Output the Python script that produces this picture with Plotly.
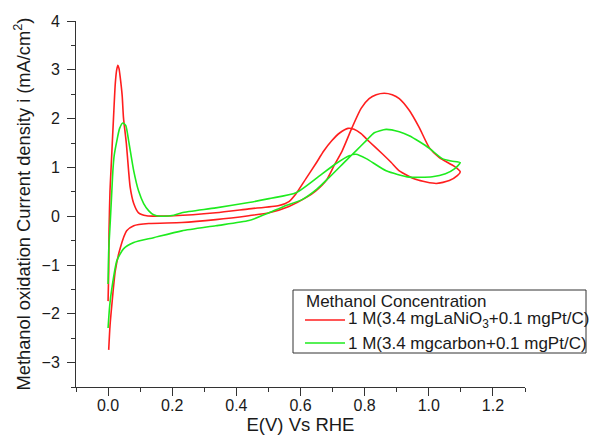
import plotly.graph_objects as go

# Potential (V vs RHE) and current density (mA/cm2), traced along each CV loop
E_lanio3 = [0.000, 0.002, 0.003, 0.006, 0.009, 0.017, 0.0225, 0.0266, 0.0306, 0.034, 0.038, 0.044,
            0.048, 0.057, 0.064, 0.069, 0.080, 0.095, 0.120, 0.205, 0.336, 0.439, 0.533, 0.564,
            0.586, 0.617, 0.648, 0.673, 0.698, 0.723, 0.748, 0.767, 0.789, 0.814, 0.855, 0.883,
            0.908, 0.961, 1.023, 1.064, 1.089, 1.098, 1.080, 1.033, 1.002, 0.970, 0.939, 0.908,
            0.886, 0.861, 0.836, 0.814, 0.789, 0.761, 0.730, 0.705, 0.680, 0.648, 0.617, 0.564,
            0.502, 0.439, 0.336, 0.230, 0.127, 0.080, 0.058, 0.038, 0.0225, 0.012, 0.006, 0.002]
i_lanio3 = [-1.74, -1.12, -0.30, 0.52, 0.93, 2.02, 2.72, 2.99, 3.09, 3.03, 2.84, 2.47,
            2.02, 1.49, 0.93, 0.59, 0.26, 0.07, 0.01, 0.01, 0.07, 0.15, 0.22, 0.30,
            0.46, 0.77, 1.08, 1.34, 1.55, 1.71, 1.80, 1.78, 1.69, 1.53, 1.28, 1.10,
            0.93, 0.75, 0.67, 0.73, 0.83, 0.91, 1.02, 1.20, 1.40, 1.82, 2.17, 2.41,
            2.49, 2.52, 2.49, 2.41, 2.21, 1.82, 1.34, 1.04, 0.73, 0.52, 0.38, 0.20,
            0.07, 0.01, -0.07, -0.13, -0.15, -0.195, -0.30, -0.65, -1.12, -1.80, -2.25, -2.74]

E_carbon = [0.000, 0.002, 0.007, 0.011, 0.015, 0.019, 0.0275, 0.036, 0.046, 0.055, 0.064, 0.080,
            0.095, 0.111, 0.127, 0.142, 0.164, 0.205, 0.230, 0.336, 0.439, 0.502, 0.586, 0.648,
            0.711, 0.752, 0.773, 0.805, 0.867, 0.939, 1.011, 1.052, 1.080, 1.098, 1.070, 1.042,
            1.002, 0.970, 0.939, 0.908, 0.867, 0.830, 0.805, 0.773, 0.742, 0.695, 0.652, 0.605,
            0.548, 0.502, 0.439, 0.336, 0.230, 0.142, 0.080, 0.048, 0.0275, 0.012, 0.005, 0.000]
i_carbon = [-1.39, -0.71, -0.09, 0.42, 0.93, 1.24, 1.55, 1.80, 1.91, 1.86, 1.55, 0.93,
            0.52, 0.26, 0.11, 0.03, 0.00, 0.02, 0.07, 0.17, 0.28, 0.36, 0.48, 0.77,
            1.08, 1.24, 1.27, 1.18, 0.93, 0.80, 0.81, 0.87, 0.97, 1.10, 1.13, 1.18,
            1.39, 1.53, 1.65, 1.73, 1.78, 1.71, 1.55, 1.34, 1.14, 0.83, 0.56, 0.34,
            0.20, 0.07, -0.09, -0.195, -0.30, -0.44, -0.54, -0.67, -0.91, -1.47, -1.84, -2.29]

series_names = ["1 M(3.4 mgLaNiO<sub>3</sub>+0.1 mgPt/C)", "1 M(3.4 mgcarbon+0.1 mgPt/C)"]
series_colors = ["rgb(255,30,30)", "rgb(30,235,30)"]
legend_title = "Methanol Concentration"
x_title = "E(V) Vs RHE"
y_title = "Methanol oxidation Current density i (mA/cm<sup>2</sup>)"
x_ticks = [0.0, 0.2, 0.4, 0.6, 0.8, 1.0, 1.2]
x_ticklabels = ["0.0", "0.2", "0.4", "0.6", "0.8", "1.0", "1.2"]
y_ticks = [-3, -2, -1, 0, 1, 2, 3, 4]

FONT = "Liberation Sans, Arial, sans-serif"
AXC = "#333333"
TXT = "#1a1a1a"

fig = go.Figure()
for E, i, nm, col in [(E_lanio3, i_lanio3, series_names[0], series_colors[0]),
                      (E_carbon, i_carbon, series_names[1], series_colors[1])]:
    fig.add_trace(go.Scatter(x=E, y=i, mode="lines", name=nm, showlegend=False,
                             line=dict(color=col, width=1.6, shape="spline", smoothing=0.6)))

# Plot area: x 76..525 px, y 21..387 px  (449 x 366)
def px(x):
    return (x - 76) / 449.0

def py(y):
    return (387 - y) / 366.0

# Legend box
fig.add_shape(type="rect", xref="paper", yref="paper", x0=px(293), x1=px(586), y0=py(353), y1=py(290),
              line=dict(color=AXC, width=1), fillcolor="white", layer="above")
fig.add_annotation(xref="paper", yref="paper", x=px(304), y=py(301), xanchor="left", yanchor="middle",
                   text=legend_title, showarrow=False, font=dict(size=17, color=TXT))
row_y = [320, 343]
for k in range(2):
    fig.add_shape(type="line", xref="paper", yref="paper", x0=px(305), x1=px(345),
                  y0=py(row_y[k]), y1=py(row_y[k]),
                  line=dict(color=series_colors[k], width=1.6), layer="above")
    fig.add_annotation(xref="paper", yref="paper", x=px(346), y=py(row_y[k]), xanchor="left",
                       yanchor="middle", text=series_names[k], showarrow=False,
                       font=dict(size=17, color=TXT))

fig.update_layout(
    width=589, height=437,
    margin=dict(l=76, r=64, t=21, b=50),
    paper_bgcolor="white", plot_bgcolor="white",
    font=dict(family=FONT, size=16, color=TXT),
    showlegend=False,
    xaxis=dict(
        range=[-0.1, 1.3], tickvals=x_ticks, ticktext=x_ticklabels,
        showline=True, linecolor=AXC, linewidth=1, showgrid=False, zeroline=False,
        ticks="outside", ticklen=8, tickcolor=AXC, tickwidth=1,
        minor=dict(ticks="outside", ticklen=4, tickcolor=AXC, dtick=0.1, tick0=0, showgrid=False),
        tickfont=dict(size=16), automargin=False, ticklabelstandoff=-4,
        title=dict(text=x_title, font=dict(size=18.5), standoff=4),
    ),
    yaxis=dict(
        range=[-3.5, 4], tickvals=y_ticks,
        showline=True, linecolor=AXC, linewidth=1, showgrid=False, zeroline=False,
        ticks="outside", ticklen=8, tickcolor=AXC, tickwidth=1,
        minor=dict(ticks="outside", ticklen=4, tickcolor=AXC, dtick=0.5, tick0=0, showgrid=False),
        tickfont=dict(size=16), automargin=False, ticklabelstandoff=4,
        title=dict(text=y_title, font=dict(size=18.3), standoff=6),
    ),
)

fig.write_html("out.html", config={"displayModeBar": False},
               post_script="document.body.style.margin='0';")
